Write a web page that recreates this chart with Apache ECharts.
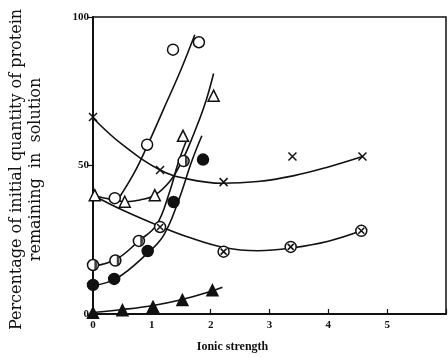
<!DOCTYPE html>
<html>
<head>
<meta charset="utf-8">
<script src="https://cdn.jsdelivr.net/npm/echarts@6/dist/echarts.min.js"></script>
<style>
  html, body { margin: 0; padding: 0; background: #fff; }
  #chart { width: 448px; height: 358px; }
</style>
</head>
<body>
<div id="chart"></div>
<script>
// Measured points (ionic strength, % protein remaining)
const openCirclePts   = [[0.37, 39], [0.92, 57], [1.36, 89], [1.8, 91.5]];
const openTrianglePts = [[0.03, 40], [0.54, 37.8], [1.05, 40], [1.53, 60], [2.05, 73.5]];
const halfCirclePts   = [[0, 16.5], [0.38, 18], [0.78, 24.6], [1.54, 51.5]];
const filledCirclePts = [[0, 9.8], [0.36, 11.8], [0.93, 21.2], [1.37, 37.7], [1.87, 52]];
const crossCirclePts  = [[1.14, 29.3], [2.22, 21], [3.36, 22.6], [4.56, 28]];
const crossPts        = [[0, 66.3], [1.14, 48.5], [2.22, 44.4], [3.39, 53], [4.58, 53]];
const filledTriPts    = [[0, 0.4], [0.5, 1.3], [1.02, 2.4], [1.52, 4.7], [2.03, 8]];

// Hand-drawn trend curves through each set
const openCircleCurve   = [[0.42, 38.4], [0.7, 47.5], [0.92, 56.5], [1.2, 69], [1.5, 82.5], [1.73, 94]];
const openTriangleCurve = [[0, 40], [0.3, 38.6], [0.55, 37.8], [0.8, 38.4], [1.05, 40], [1.3, 44.5], [1.5, 51], [1.7, 60], [1.9, 70.5], [2.05, 81]];
const halfCircleCurve   = [[0, 16], [0.4, 18.5], [0.78, 24.6], [1.08, 30], [1.3, 41], [1.45, 51], [1.6, 59]];
const filledCircleCurve = [[0, 9.5], [0.4, 12], [0.9, 20], [1.2, 26.5], [1.45, 38], [1.68, 51.5], [1.85, 60]];
const crossCircleCurve  = [[0, 40], [0.5, 35], [1.14, 29.5], [1.6, 26], [2.2, 22.5], [2.8, 21.3], [3.4, 22.3], [4.0, 24.5], [4.56, 28]];
const crossCurve        = [[0, 66], [0.5, 57], [1.14, 48.5], [1.6, 45.5], [2.2, 44], [2.8, 44.6], [3.4, 46.5], [4.0, 49.5], [4.58, 53]];
const filledTriCurve    = [[0, 0.5], [0.5, 1.5], [1.0, 2.8], [1.5, 4.8], [2.0, 7.6], [2.2, 9]];

const xTicks = [0, 1, 2, 3, 4, 5];
const yTicks = [0, 50, 100];

const serif = '"Liberation Serif", "DejaVu Serif", serif';
const wideSerif = '"DejaVu Serif", serif';
const INK = '#111';

function curve(data) {
  return {
    type: 'line', data: data, smooth: 0.4, showSymbol: false, silent: true,
    lineStyle: { color: INK, width: 1.6 }, z: 2
  };
}
function marks(data, symbol, size, fill, extra) {
  return Object.assign({
    type: 'scatter', data: data, symbol: symbol, symbolSize: size, silent: true,
    itemStyle: { color: fill, borderColor: INK, borderWidth: 1.5, opacity: 1 }, z: 3
  }, extra || {});
}
const CROSS = 'path://M-1,-1L1,1M1,-1L-1,1';
const HALF  = 'path://M0,-1A1,1 0 0 1 0,1Z';

const chart = echarts.init(document.getElementById('chart'), null, { renderer: 'canvas' });
chart.setOption({
  animation: false,
  backgroundColor: '#fff',
  grid: {
    left: 93, right: 2, top: 17, bottom: 44,
    containLabel: false, outerBoundsMode: 'none',
    show: true, borderColor: INK, borderWidth: 1.5, backgroundColor: 'transparent'
  },
  xAxis: {
    type: 'value', min: 0, max: 6, interval: 1,
    name: 'Ionic strength', nameLocation: 'middle', nameGap: 27,
    nameTextStyle: { fontFamily: serif, fontSize: 12, fontWeight: 'bold', color: INK, padding: [0, 74, 0, 0] },
    axisLine: { lineStyle: { color: INK, width: 2 } },
    axisTick: { inside: true, length: 5, lineStyle: { color: INK, width: 1.2 } },
    axisLabel: {
      fontFamily: serif, fontSize: 11, fontWeight: 'bold', color: INK, margin: 6,
      formatter: v => xTicks.indexOf(v) >= 0 ? String(v) : ''
    },
    splitLine: { show: false }
  },
  yAxis: {
    type: 'value', min: 0, max: 100, interval: 50,
    name: 'Percentage of initial quantity of protein\nremaining  in  solution',
    nameLocation: 'middle', nameGap: 48, nameRotate: 90,
    nameTextStyle: { fontFamily: wideSerif, fontSize: 16, color: INK, lineHeight: 19, align: 'center', padding: [0, 8, 0, 0] },
    axisLine: { show: true, lineStyle: { color: INK, width: 2 } },
    axisTick: { show: true, inside: false, length: 5, lineStyle: { color: INK, width: 1.2 } },
    axisLabel: {
      fontFamily: serif, fontSize: 11, fontWeight: 'bold', color: INK, margin: 4,
      formatter: v => yTicks.indexOf(v) >= 0 ? String(v) : ''
    },
    splitLine: { show: false }
  },
  series: [
    curve(openCircleCurve),
    curve(openTriangleCurve),
    curve(halfCircleCurve),
    curve(filledCircleCurve),
    curve(crossCircleCurve),
    curve(crossCurve),
    curve(filledTriCurve),

    marks(openCirclePts, 'circle', 11, '#fff'),
    marks(openTrianglePts, 'triangle', 11, '#fff'),
    marks(halfCirclePts, 'circle', 11, '#fff'),
    marks(halfCirclePts, HALF, [5.5, 11], INK, { symbolKeepAspect: true, symbolOffset: [2.75, 0], z: 4,
      itemStyle: { color: INK, borderColor: INK, borderWidth: 0 } }),
    marks(filledCirclePts, 'circle', 11, INK),
    marks(crossCirclePts, 'circle', 11, '#fff'),
    marks(crossCirclePts, CROSS, 6, 'none', { z: 4 }),
    marks(crossPts, CROSS, 8, 'none'),
    marks(filledTriPts, 'triangle', 11, INK)
  ]
});
</script>
</body>
</html>
